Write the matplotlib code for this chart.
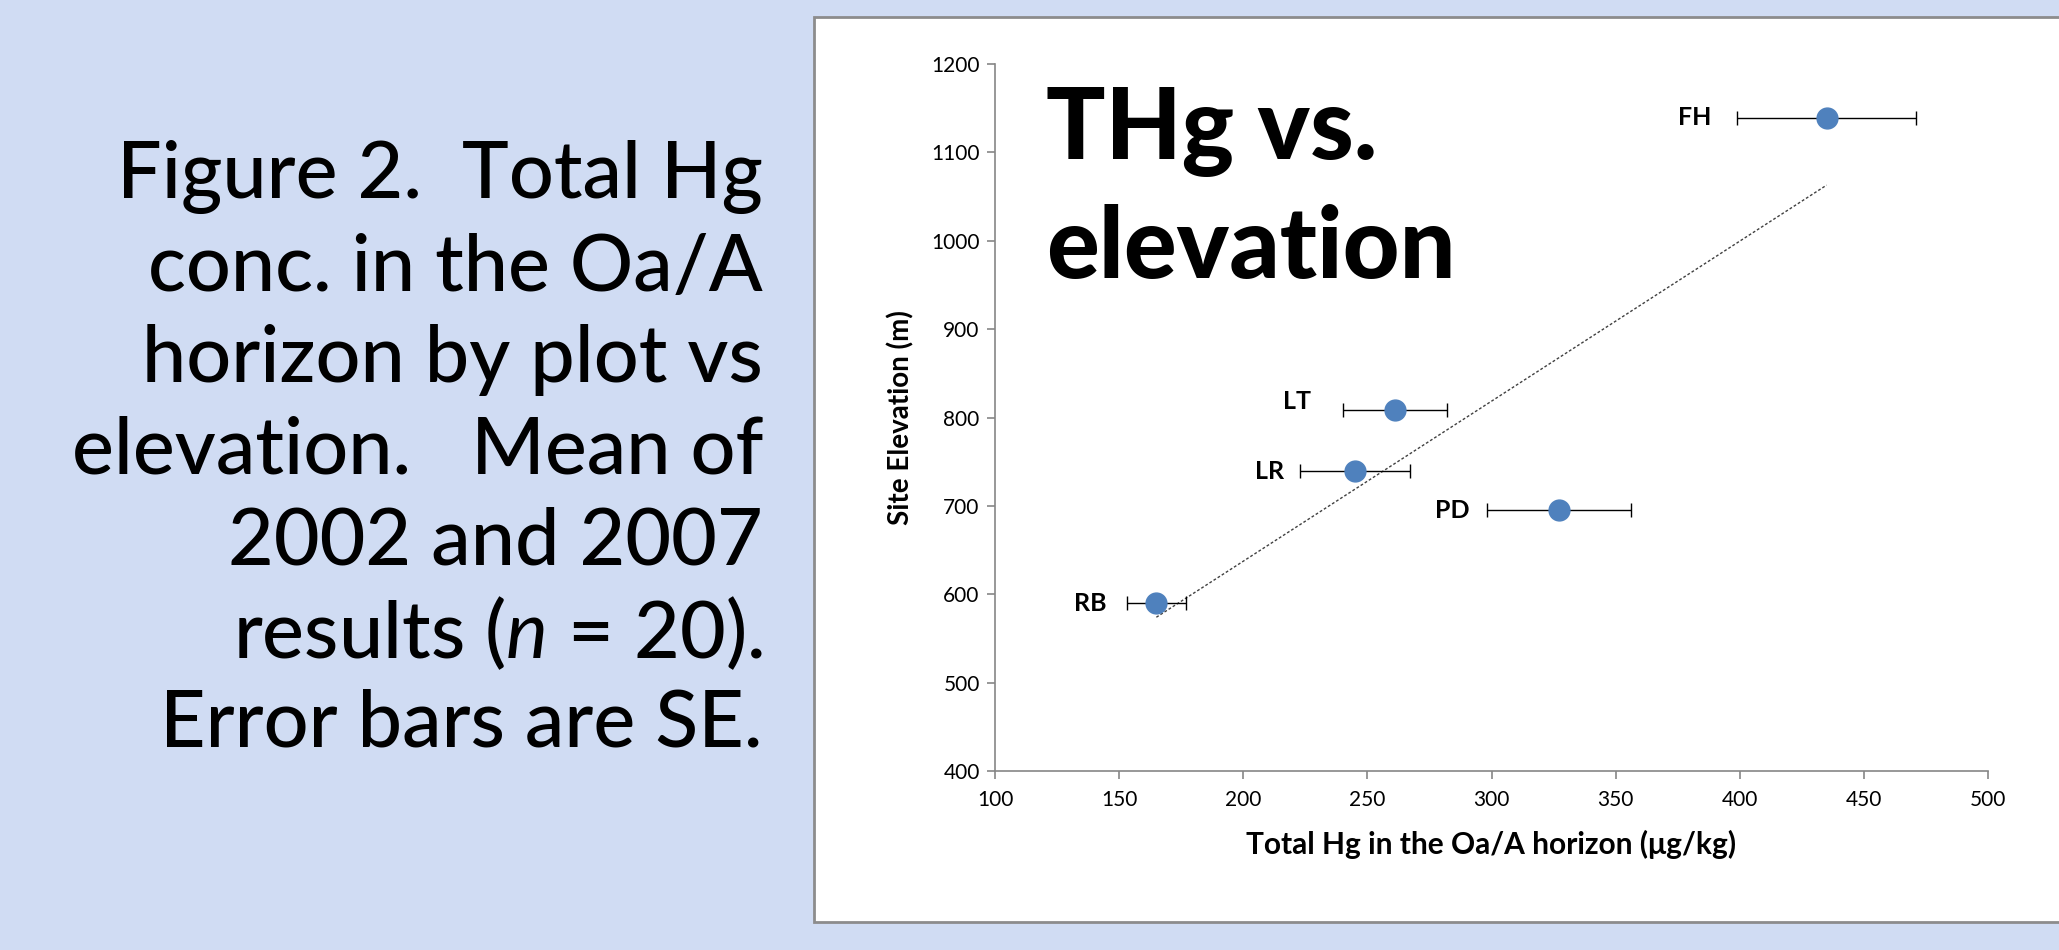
import matplotlib
matplotlib.use("Agg")
import matplotlib.pyplot as plt
import numpy as np
from matplotlib.patches import Rectangle

# Data
sites = ["FH", "LT", "LR", "PD", "RB"]
thg = [435, 261, 245, 327, 165]          # Total Hg (ug/kg)
thg_se = [36, 21, 22, 29, 12]            # SE
elevation = [1139, 808, 739, 695, 590]   # Site elevation (m)
xticks = [100, 150, 200, 250, 300, 350, 400, 450, 500]
yticks = [400, 500, 600, 700, 800, 900, 1000, 1100, 1200]

caption_lines = ["Figure 2.  Total Hg", "conc. in the Oa/A", "horizon by plot vs",
                 "elevation.   Mean of", "2002 and 2007",
                 "results ($\\mathit{n}$ = 20).", "Error bars are SE."]

# label placement (points, relative to marker centre)
label_dx = [-83, -60, -51, -64, -36]
label_dy = [0, 6.5, 0, 0, 0]

W, H = 2059, 950
fig = plt.figure(figsize=(W / 100, H / 100), dpi=100)
fig.patch.set_facecolor("#D0DCF3")

font = "Lato"
plt.rcParams['font.family'] = [font, 'DejaVu Sans']
plt.rcParams['mathtext.fontset'] = 'custom'
plt.rcParams['mathtext.it'] = 'Lato:italic'
plt.rcParams['mathtext.rm'] = 'Lato'

# white panel
panel = Rectangle((814 / W, 1 - 922 / H), (W - 814 + 20) / W, (922 - 17) / H,
                  transform=fig.transFigure, facecolor="white",
                  edgecolor="#8C8C8C", linewidth=2, zorder=0)
fig.add_artist(panel)

# caption
y0 = 1 - 135 * 1.3131 / H
dy = 69.5 * 1.3131 / H
for i, line in enumerate(caption_lines):
    fig.text(763 / W, y0 - i * dy, line, ha="right", va="center",
             fontsize=57, fontweight="medium", color="black")

ax = fig.add_axes([995 / W, 1 - 771 / H, (1988 - 995) / W, (771 - 64) / H])
ax.set_facecolor("none")
ax.set_xlim(100, 500)
ax.set_ylim(400, 1200)
ax.set_xticks(xticks)
ax.set_yticks(yticks)
for s in ["top", "right"]:
    ax.spines[s].set_visible(False)
for s in ["left", "bottom"]:
    ax.spines[s].set_color("#868686")
    ax.spines[s].set_linewidth(1.2)
ax.tick_params(axis="both", colors="#868686", length=6, width=1.2,
               labelcolor="black", labelsize=15, pad=5)
ax.tick_params(axis="x", pad=8)

# trendline
coef = np.polyfit(thg, elevation, 1)
xl = np.array([min(thg), max(thg)])
ax.plot(xl, np.polyval(coef, xl), linestyle=(0, (2, 1.5)), color="#404040",
        linewidth=1.0, zorder=2)

ax.errorbar(thg, elevation, xerr=thg_se, fmt="o", color="#4F81BD",
            markersize=15, ecolor="black", elinewidth=1.0, capsize=5,
            capthick=1.0, zorder=3)

for s, x, y, dx, ddy in zip(sites, thg, elevation, label_dx, label_dy):
    ax.annotate(s, (x, y), xytext=(dx, ddy), textcoords="offset points",
                ha="right", va="center", fontsize=18, fontweight="bold")

ax.set_xlabel("Total Hg in the Oa/A horizon (μg/kg)", fontsize=21.5,
              fontweight="bold", labelpad=14)
ax.set_ylabel("Site Elevation (m)", fontsize=20, fontweight="bold", labelpad=12)

ax.text(1046 / W, 1 - 100 * 1.3131 / H, "THg vs.", transform=fig.transFigure,
        fontsize=71, fontweight="black", va="center", ha="left")
ax.text(1046 / W, 1 - 190 * 1.3131 / H, "elevation", transform=fig.transFigure,
        fontsize=71, fontweight="black", va="center", ha="left")

fig.savefig("out.png", dpi=100, facecolor=fig.get_facecolor())
